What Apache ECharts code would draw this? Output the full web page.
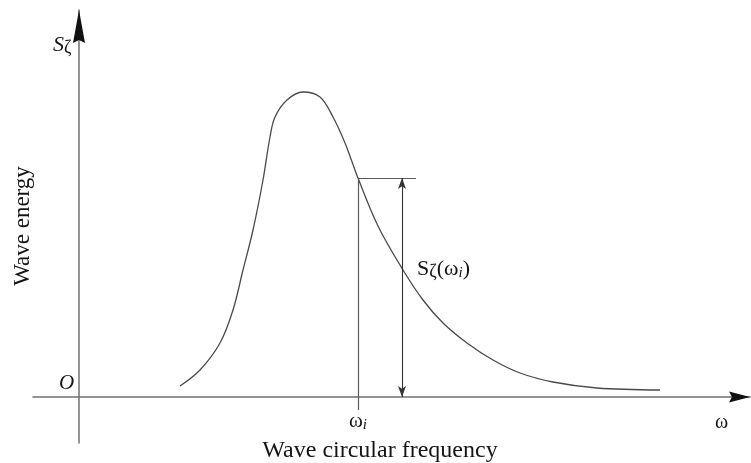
<!DOCTYPE html>
<html>
<head>
<meta charset="utf-8">
<title>Wave energy spectrum</title>
<script src="https://cdn.jsdelivr.net/npm/echarts@6/dist/echarts.min.js"></script>
<style>
  html, body { margin: 0; padding: 0; background: #fff; }
  #chart { width: 751px; height: 463px; }
</style>
</head>
<body>
<div id="chart"></div>
<script>
// Wave spectrum S(ω): circular frequency ω vs. energy density (arbitrary units)
const omega = [1.01, 1.21, 1.41, 1.54, 1.64, 1.74, 1.84, 1.91, 1.96, 2.08, 2.24, 2.41, 2.54, 2.66, 2.79, 2.99, 3.24, 3.44, 3.64, 3.88, 4.14, 4.41, 4.74, 5.18, 5.81];
const spectrum = [0.11, 0.27, 0.54, 0.87, 1.27, 1.67, 2.17, 2.60, 2.80, 2.97, 3.05, 3.00, 2.80, 2.54, 2.19, 1.71, 1.27, 0.97, 0.74, 0.54, 0.37, 0.24, 0.15, 0.09, 0.07];

// Selected frequency ωi and its spectral ordinate Sζ(ωi)
const omegaI = 2.79;
const sAtOmegaI = 2.19;
const ordinateTickEnd = 3.37;   // right end of the short level line at Sζ(ωi)
const ordinateArrowX = 3.23;    // position of the two-headed dimension arrow
const omegaITickBelow = -0.13;  // how far the ωi line runs below the axis

const axisRange = { xMin: -0.46, xMax: 6.71, yMin: -0.46, yMax: 3.87 };

const serif = '"Liberation Serif", "DejaVu Serif", serif';
const ink = '#151515';
const axisGrey = '#707070';

const chart = echarts.init(document.getElementById('chart'), null, { renderer: 'canvas' });

const lineStyleThin = { color: '#5a5a5a', width: 1.2, type: 'solid' };

const plainAxis = (min, max) => ({
  type: 'value',
  min: min,
  max: max,
  axisLine: {
    show: true,
    onZero: true,
    symbol: ['none', 'none'],
    lineStyle: { color: axisGrey, width: 1.5 }
  },
  axisTick: { show: false },
  axisLabel: { show: false },
  splitLine: { show: false }
});

chart.setOption({
  animation: false,
  backgroundColor: '#ffffff',
  grid: { left: 33, right: 1, top: 10, bottom: 20, containLabel: false },
  xAxis: plainAxis(axisRange.xMin, axisRange.xMax),
  yAxis: plainAxis(axisRange.yMin, axisRange.yMax),
  series: [
    {
      type: 'line',
      data: omega.map((w, i) => [w, spectrum[i]]),
      smooth: 0.35,
      showSymbol: false,
      silent: true,
      lineStyle: { color: '#4a4a4a', width: 1.3 },
      markLine: {
        silent: true,
        symbol: ['none', 'none'],
        label: { show: false },
        lineStyle: lineStyleThin,
        data: [
          // vertical line at ωi
          [{ coord: [omegaI, sAtOmegaI] }, { coord: [omegaI, omegaITickBelow] }],
          // short level line at Sζ(ωi)
          [{ coord: [omegaI, sAtOmegaI] }, { coord: [ordinateTickEnd, sAtOmegaI] }],
          // two-headed dimension arrow
          [
            { coord: [ordinateArrowX, 0], symbol: 'arrow', symbolSize: [6, 11] },
            {
              coord: [ordinateArrowX, sAtOmegaI],
              symbol: 'arrow',
              symbolSize: [6, 11],
              lineStyle: { color: '#333', width: 1.1 }
            }
          ]
        ]
      }
    }
  ]
});

// Solid arrowheads at the positive ends of both axes
const xEnd = chart.convertToPixel({ gridIndex: 0 }, [axisRange.xMax, 0]);
const yEnd = chart.convertToPixel({ gridIndex: 0 }, [0, axisRange.yMax]);
const xHeadLen = 21, xHeadHalf = 5.5;
const yHeadLen = 33, yHeadHalf = 6;

const arrowHeads = [
  {
    type: 'polygon', silent: true, z: 10,
    shape: {
      points: [
        [xEnd[0], xEnd[1]],
        [xEnd[0] - xHeadLen, xEnd[1] - xHeadHalf],
        [xEnd[0] - xHeadLen + 3, xEnd[1]],
        [xEnd[0] - xHeadLen, xEnd[1] + xHeadHalf]
      ]
    },
    style: { fill: '#111' }
  },
  {
    type: 'polygon', silent: true, z: 10,
    shape: {
      points: [
        [yEnd[0], yEnd[1]],
        [yEnd[0] - yHeadHalf, yEnd[1] + yHeadLen],
        [yEnd[0], yEnd[1] + yHeadLen - 3],
        [yEnd[0] + yHeadHalf, yEnd[1] + yHeadLen]
      ]
    },
    style: { fill: '#111' }
  }
];

const labels = [
  {
    type: 'text', left: 53, top: 34, silent: true,
    style: {
      text: '{s|S}{z|ζ}',
      rich: {
        s: { fontFamily: serif, fontSize: 22, fill: ink, fontStyle: 'italic' },
        z: { fontFamily: serif, fontSize: 18, fill: ink, padding: [6, 0, 0, 0] }
      }
    }
  },
  {
    type: 'text', left: 59, top: 373, silent: true,
    style: { text: 'O', fontFamily: serif, fontSize: 21, fontStyle: 'italic', fill: ink }
  },
  {
    type: 'text', left: 349, top: 411, silent: true,
    style: {
      text: '{w|ω}{i|i}',
      rich: {
        w: { fontFamily: serif, fontSize: 21, fill: ink },
        i: { fontFamily: serif, fontSize: 15, fontStyle: 'italic', fill: ink, padding: [8, 0, 0, 0] }
      }
    }
  },
  {
    type: 'text', left: 715, top: 413, silent: true,
    style: { text: 'ω', fontFamily: serif, fontSize: 20, fill: ink }
  },
  {
    type: 'text', x: 380, y: 451, silent: true,
    style: {
      text: 'Wave circular frequency', fontFamily: serif, fontSize: 24, fill: ink,
      align: 'center', verticalAlign: 'middle'
    }
  },
  {
    type: 'text', x: 23, y: 226, rotation: Math.PI / 2, silent: true,
    style: {
      text: 'Wave energy', fontFamily: serif, fontSize: 23, fill: ink,
      align: 'center', verticalAlign: 'middle'
    }
  },
  {
    type: 'text', left: 417, top: 258, silent: true,
    style: {
      text: '{s|S}{z|ζ}{p|(ω}{i|i}{p|)}',
      rich: {
        s: { fontFamily: serif, fontSize: 22, fill: ink },
        z: { fontFamily: serif, fontSize: 18, fill: ink, padding: [6, 0, 0, 0] },
        p: { fontFamily: serif, fontSize: 22, fill: ink },
        i: { fontFamily: serif, fontSize: 15, fontStyle: 'italic', fill: ink, padding: [8, 0, 0, 0] }
      }
    }
  }
];

chart.setOption({ graphic: arrowHeads.concat(labels) });
</script>
</body>
</html>
